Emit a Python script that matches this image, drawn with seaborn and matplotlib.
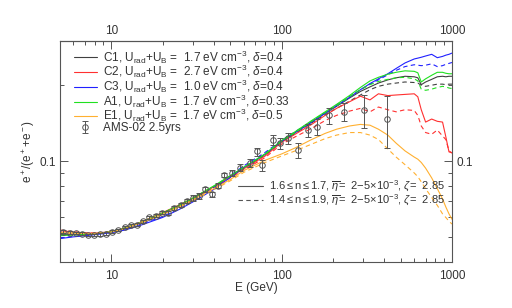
import numpy as np
import pandas as pd
import seaborn as sns
import matplotlib
matplotlib.use("Agg")
import matplotlib.pyplot as plt
from matplotlib.lines import Line2D
from matplotlib import ticker

# energia dos modelos (GeV)
e_mod = [5, 6, 7, 8, 10, 12, 15, 20, 25, 30, 40, 50, 60, 80, 100, 120, 150, 180, 210,
         250, 290, 330, 370, 420, 470, 530, 600, 630, 660, 700, 760, 820, 880, 920, 960, 1000]

# fração de pósitrons dos modelos (linha cheia / tracejada)
c1_sol = [0.0512, 0.0514, 0.0515, 0.0517, 0.0527, 0.0543, 0.0572, 0.0622, 0.0668, 0.0712, 0.0795, 0.0875, 0.0945, 0.1065,
          0.120, 0.130, 0.143, 0.155, 0.165, 0.178, 0.189, 0.197, 0.204, 0.210, 0.214, 0.217, 0.216, 0.214, 0.201,
          0.206, 0.211, 0.216, 0.217, 0.216, 0.217, 0.217]
c1_das = [0.0515, 0.0516, 0.0517, 0.0519, 0.0528, 0.0545, 0.0573, 0.0622, 0.0667, 0.0710, 0.0792, 0.0872, 0.0940, 0.1060,
          0.119, 0.129, 0.142, 0.153, 0.162, 0.173, 0.183, 0.192, 0.198, 0.202, 0.204, 0.206, 0.205, 0.204, 0.200,
          0.198, 0.200, 0.202, 0.202, 0.201, 0.202, 0.202]
c2_sol = [0.0532, 0.0525, 0.0521, 0.0520, 0.0527, 0.0545, 0.0576, 0.0627, 0.0672, 0.0715, 0.0795, 0.0870, 0.0935, 0.1050,
          0.119, 0.128, 0.140, 0.152, 0.162, 0.172, 0.181, 0.175, 0.185, 0.182, 0.183, 0.184, 0.185, 0.180, 0.160,
          0.143, 0.147, 0.144, 0.143, 0.125, 0.109, 0.108]
c2_das = [0.0535, 0.0527, 0.0522, 0.0520, 0.0526, 0.0543, 0.0574, 0.0624, 0.0668, 0.0710, 0.0788, 0.0862, 0.0925, 0.1035,
          0.117, 0.125, 0.135, 0.145, 0.152, 0.158, 0.162, 0.157, 0.164, 0.160, 0.157, 0.160, 0.159, 0.152, 0.138,
          0.130, 0.128, 0.133, 0.126, 0.122, 0.110, 0.108]
c3_sol = [0.0495, 0.0503, 0.0508, 0.0513, 0.0522, 0.0535, 0.0560, 0.0600, 0.0645, 0.0690, 0.0775, 0.0865, 0.0945, 0.1070,
          0.120, 0.130, 0.143, 0.155, 0.166, 0.179, 0.192, 0.203, 0.212, 0.222, 0.233, 0.245, 0.254, 0.256, 0.258,
          0.261, 0.265, 0.257, 0.260, 0.263, 0.265, 0.268]
c3_das = [0.0498, 0.0505, 0.0510, 0.0515, 0.0525, 0.0540, 0.0565, 0.0605, 0.0650, 0.0697, 0.0790, 0.0880, 0.0960, 0.1085,
          0.121, 0.131, 0.144, 0.156, 0.167, 0.180, 0.192, 0.202, 0.210, 0.220, 0.229, 0.237, 0.241, 0.240, 0.239,
          0.240, 0.243, 0.237, 0.239, 0.242, 0.244, 0.246]
a1_sol = [0.0508, 0.0512, 0.0514, 0.0517, 0.0527, 0.0544, 0.0574, 0.0625, 0.0670, 0.0715, 0.0800, 0.0878, 0.0948, 0.1070,
          0.121, 0.131, 0.145, 0.157, 0.168, 0.182, 0.196, 0.208, 0.215, 0.221, 0.225, 0.228, 0.227, 0.224, 0.206,
          0.212, 0.219, 0.225, 0.225, 0.223, 0.222, 0.222]
a1_das = [0.0510, 0.0513, 0.0515, 0.0518, 0.0528, 0.0545, 0.0574, 0.0624, 0.0668, 0.0713, 0.0797, 0.0876, 0.0946, 0.1068,
          0.120, 0.130, 0.144, 0.156, 0.166, 0.180, 0.192, 0.201, 0.207, 0.211, 0.214, 0.215, 0.212, 0.208, 0.193,
          0.191, 0.193, 0.196, 0.198, 0.197, 0.195, 0.194]
e1_sol = [0.0522, 0.0520, 0.0518, 0.0518, 0.0526, 0.0543, 0.0573, 0.0620, 0.0662, 0.0703, 0.0780, 0.0848, 0.0920, 0.1010,
          0.107, 0.113, 0.122, 0.129, 0.134, 0.138, 0.140, 0.139, 0.134, 0.127, 0.118, 0.110, 0.104, 0.102, 0.099,
          0.094, 0.086, 0.078, 0.071, 0.066, 0.062, 0.059]
e1_das = [0.0524, 0.0521, 0.0519, 0.0519, 0.0526, 0.0542, 0.0570, 0.0616, 0.0657, 0.0697, 0.0772, 0.0838, 0.0905, 0.0990,
          0.105, 0.110, 0.117, 0.123, 0.127, 0.130, 0.130, 0.127, 0.122, 0.112, 0.104, 0.097, 0.090, 0.087, 0.083,
          0.078, 0.072, 0.067, 0.062, 0.060, 0.058, 0.0565]

# dados AMS-02 (2.5 anos)
ams_e = [5.2, 5.7, 6.2, 6.7, 7.3, 7.9, 8.6, 9.3, 10.1, 11.0, 12.0, 13.0, 14.1, 15.4, 16.7, 18.2, 19.8, 21.5,
         23.4, 25.5, 27.7, 30.2, 32.8, 35.7, 38.9, 42.3, 46.0, 50.8, 56.8, 65.6, 71.3, 76.8, 89.0, 97.9, 109,
         125, 143, 162, 190, 232, 303, 414]
ams_f = [0.0528, 0.0523, 0.0521, 0.0518, 0.0511, 0.0512, 0.0515, 0.0518, 0.0528, 0.0536, 0.0550, 0.0558, 0.0561,
         0.0580, 0.0600, 0.0610, 0.0626, 0.0625, 0.0655, 0.0670, 0.0697, 0.0715, 0.0730, 0.0776, 0.0740, 0.0800,
         0.0882, 0.0900, 0.0942, 0.0986, 0.1094, 0.0964, 0.1216, 0.1180, 0.1235, 0.1110, 0.1330, 0.1370, 0.1520,
         0.1570, 0.1590, 0.1470]
ams_err = [0.0006, 0.0006, 0.0006, 0.0006, 0.0006, 0.0006, 0.0006, 0.0006, 0.0006, 0.0006, 0.0006, 0.0008, 0.0008,
           0.0008, 0.0008, 0.0008, 0.0008, 0.0012, 0.0012, 0.0012, 0.0012, 0.0018, 0.0018, 0.0018, 0.0018, 0.0018,
           0.0018, 0.0025, 0.0030, 0.0035, 0.0040, 0.0045, 0.0060, 0.0060, 0.0065, 0.0075, 0.0080, 0.0095, 0.0110,
           0.0130, 0.0240, 0.0340]

# marcas dos eixos
x_ticks = [10, 100, 1000]
y_ticks = [0.1]
y_minor = [0.05, 0.06, 0.07, 0.08, 0.09, 0.2]

modelos = ["C1", "C2", "C3", "A1", "E1"]
cores = {"C1": "#404040", "C2": "#ff3030", "C3": "#2020ff", "A1": "#20e020", "E1": "#ffb030"}
rotulos = {
    "C1": r"C1, U$_{\rm rad}$+U$_{\rm B}$ =  1.7 eV cm$^{-3}$, $\delta$=0.4",
    "C2": r"C2, U$_{\rm rad}$+U$_{\rm B}$ =  2.7 eV cm$^{-3}$, $\delta$=0.4",
    "C3": r"C3, U$_{\rm rad}$+U$_{\rm B}$ =  1.0 eV cm$^{-3}$, $\delta$=0.4",
    "A1": r"A1, U$_{\rm rad}$+U$_{\rm B}$ =  1.7 eV cm$^{-3}$, $\delta$=0.33",
    "E1": r"E1, U$_{\rm rad}$+U$_{\rm B}$ =  1.7 eV cm$^{-3}$, $\delta$=0.5",
}
curvas = {"C1": (c1_sol, c1_das), "C2": (c2_sol, c2_das), "C3": (c3_sol, c3_das),
          "A1": (a1_sol, a1_das), "E1": (e1_sol, e1_das)}

linhas = []
for m in modelos:
    sol, das = curvas[m]
    linhas.append(pd.DataFrame({"E": e_mod, "f": sol, "modelo": m, "tipo": "sol"}))
    linhas.append(pd.DataFrame({"E": e_mod, "f": das, "modelo": m, "tipo": "das"}))
tabela = pd.concat(linhas, ignore_index=True)

sns.set_theme(style="ticks")
plt.rcParams["font.family"] = ["Liberation Sans", "DejaVu Sans"]
plt.rcParams["mathtext.fontset"] = "custom"
plt.rcParams["mathtext.rm"] = "Liberation Sans"
plt.rcParams["mathtext.it"] = "Liberation Sans:italic"
plt.rcParams["mathtext.bf"] = "Liberation Sans:bold"

cinza = "#555555"
texto = "#333333"
fig = plt.figure(figsize=(5.12, 3.08), dpi=100)
ax = fig.add_axes([60 / 512, 46 / 308, 392 / 512, 221.3 / 308])

handles = []
for m in modelos:
    for tipo, ls in [("das", (0, (4, 3))), ("sol", "-")]:
        sub = tabela[(tabela.modelo == m) & (tabela.tipo == tipo)]
        sns.lineplot(data=sub, x="E", y="f", ax=ax, color=cores[m], linewidth=0.8,
                     estimator=None, sort=False, legend=False)
        ax.lines[-1].set_linestyle(ls)
        if tipo == "sol":
            handles.append(ax.lines[-1])

dados = ax.errorbar(ams_e, ams_f, yerr=ams_err, fmt="o", ms=4, mfc="none", mec=cinza,
                    mew=0.7, ecolor=cinza, elinewidth=0.7, capsize=2, capthick=0.7, zorder=5)

ax.set_xscale("log")
ax.set_yscale("log")
ax.set_xlim(5, 1000)
ax.set_ylim(0.04, 0.3)


def eixo_x_log(eixo):
    eixo.set_major_locator(ticker.FixedLocator(x_ticks))
    eixo.set_minor_locator(ticker.LogLocator(base=10, subs=np.arange(2, 10)))
    eixo.set_major_formatter(ticker.FuncFormatter(lambda v, p: f"{v:g}"))
    eixo.set_minor_formatter(ticker.NullFormatter())


eixo_x_log(ax.xaxis)
ax.yaxis.set_major_locator(ticker.FixedLocator(y_ticks))
ax.yaxis.set_minor_locator(ticker.FixedLocator(y_minor))
ax.yaxis.set_major_formatter(ticker.FuncFormatter(lambda v, p: f"{v:g}"))
ax.yaxis.set_minor_formatter(ticker.NullFormatter())

ax.tick_params(which="both", direction="in", top=False, right=True, labelright=True,
               colors=cinza, labelcolor=texto, labelsize=8.5, width=0.7)
ax.tick_params(which="major", length=6)
ax.tick_params(which="minor", length=3)
ax.tick_params(axis="x", which="major", pad=5.5)
ax.tick_params(axis="y", which="major", pad=3)

# eixo de cima com os mesmos rótulos
topo = ax.secondary_xaxis("top")
eixo_x_log(topo.xaxis)
topo.tick_params(which="both", direction="in", colors=cinza, labelcolor=texto, labelsize=8.5, width=0.7)
topo.tick_params(which="major", length=6, pad=2.5)
topo.tick_params(which="minor", length=3)
topo.spines["top"].set_color(cinza)
topo.spines["top"].set_linewidth(0.8)

for s in ax.spines.values():
    s.set_color(cinza)
    s.set_linewidth(0.8)

ax.set_xlabel("E (GeV)", fontsize=8.5, color=texto, labelpad=0.5)
ax.set_ylabel(r"e$^+$/(e$^+$+e$^-$)", fontsize=8.5, color=texto, labelpad=2)

leg1 = ax.legend(handles + [dados], [rotulos[m] for m in modelos] + ["AMS-02 2.5yrs"],
                 loc="upper left", bbox_to_anchor=(0.015, 1.0), frameon=False, fontsize=8.5,
                 handlelength=2.0, handletextpad=0.5, labelspacing=-0.22, borderpad=0.15,
                 labelcolor=texto)
ax.add_artist(leg1)

h_sol = Line2D([], [], color=cinza, linewidth=0.8)
h_das = Line2D([], [], color=cinza, linewidth=0.8, linestyle=(0, (4, 3)))
ax.legend([h_sol, h_das],
          [r"1.6$\leq$n$\leq$1.7, $\overline{\eta}$=  2$-$5$\times$10$^{-3}$, $\zeta$=  2.85",
           r"1.4$\leq$n$\leq$1.9, $\overline{\eta}$=  2$-$5$\times$10$^{-3}$, $\zeta$=  2.85"],
          loc="lower right", bbox_to_anchor=(1.0, 0.215), frameon=False, fontsize=8,
          handlelength=2.2, handletextpad=0.6, labelspacing=-0.15, borderpad=0.1,
          labelcolor=texto)

fig.savefig("out.png", dpi=100)
